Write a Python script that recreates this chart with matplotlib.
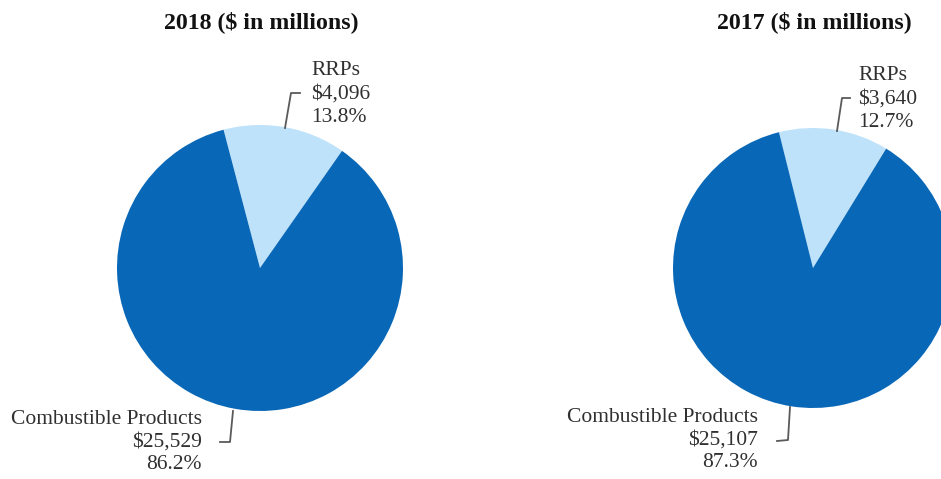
import matplotlib.pyplot as plt
from matplotlib.lines import Line2D

plt.rcParams['font.family'] = ['Liberation Serif', 'DejaVu Serif']

years = ['2018', '2017']
categories = ['RRPs', 'Combustible Products']
rrp_values = [4096, 3640]
combustible_values = [25529, 25107]
rrp_pct = ['13.8%', '12.7%']
combustible_pct = ['86.2%', '87.3%']

colors = ['#BEE2FA', '#0867B7']
text_color = '#303030'
line_color = '#5a5a5a'

W, H = 941, 479
fig = plt.figure(figsize=(W / 100, H / 100), dpi=100)


def fx(x, y):
    return x / W, 1 - y / H


# pie layout in pixels: centre x, centre y, radius, start angle
pies = [(260, 268, 143, 55.0), (813, 268, 140, 58.5)]

for i, (cx, cy, r, start) in enumerate(pies):
    s = 2.2 * r
    ax = fig.add_axes([(cx - s / 2) / W, 1 - (cy + s / 2) / H, s / W, s / H])
    ax.pie([rrp_values[i], combustible_values[i]], colors=colors,
           startangle=start, counterclock=True, radius=1,
           wedgeprops=dict(linewidth=0))
    ax.set_xlim(-1.1, 1.1)
    ax.set_ylim(-1.1, 1.1)
    ax.set_aspect('equal')
    ax.axis('off')

    fig.text(*fx(cx + 1, 22), f'{years[i]} ($ in millions)', ha='center', va='center',
             fontsize=17.2, fontweight='bold', color='#111111')

# RRP labels (left aligned, above right of pie)
rrp_pos = [(311, 94), (858, 99)]
for i, (x, y) in enumerate(rrp_pos):
    fig.text(*fx(x, y), f'RRPs\n${rrp_values[i]:,}\n{rrp_pct[i]}', ha='left', va='center',
             fontsize=15.5, color=text_color, linespacing=1.3)

# Combustible labels (right aligned, below left of pie)
comb_pos = [(202, 442), (758, 440)]
for i, (x, y) in enumerate(comb_pos):
    fig.text(*fx(x, y), f'Combustible Products\n${combustible_values[i]:,}\n{combustible_pct[i]}',
             ha='right', va='center', fontsize=15.5, color=text_color, linespacing=1.25)

# leader lines
leaders = [
    [(285, 128), (291, 93), (300, 93)],
    [(837, 131), (842, 98), (850, 98)],
    [(233, 411), (230, 442), (220, 442)],
    [(790, 407), (788, 440), (777, 441)],
]
for pts in leaders:
    xs = [fx(*p)[0] for p in pts]
    ys = [fx(*p)[1] for p in pts]
    fig.add_artist(Line2D(xs, ys, color=line_color, linewidth=1.3))

fig.savefig('out.png', dpi=100, facecolor='white')
